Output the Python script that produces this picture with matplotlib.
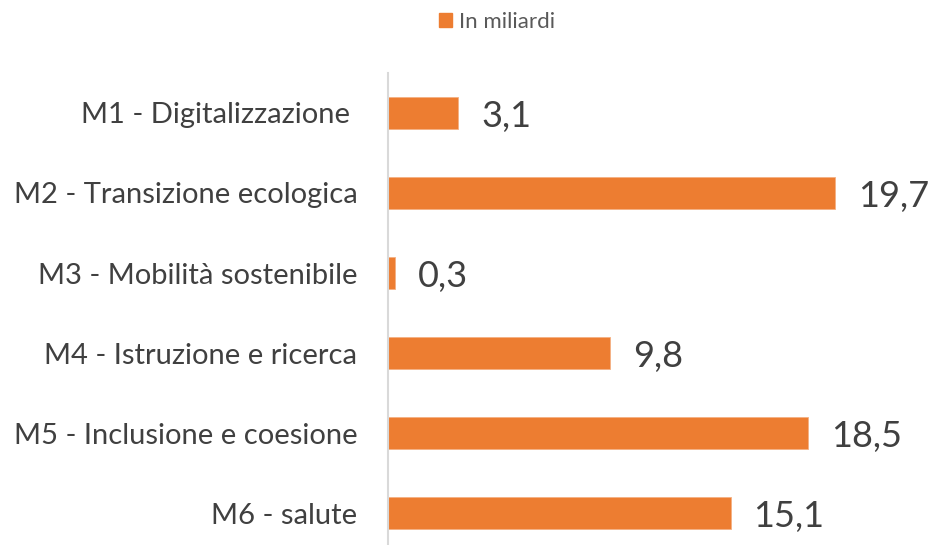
import matplotlib.pyplot as plt
from matplotlib.patches import Patch

categories = ["M1 - Digitalizzazione ", "M2 - Transizione ecologica", "M3 - Mobilità sostenibile",
              "M4 - Istruzione e ricerca", "M5 - Inclusione e coesione", "M6 - salute"]
values = [3.1, 19.7, 0.3, 9.8, 18.5, 15.1]
labels = ["3,1", "19,7", "0,3", "9,8", "18,5", "15,1"]
series_name = "In miliardi"

orange = "#ed7d31"
txt = "#404040"

plt.rcParams['font.family'] = ['Lato', 'DejaVu Sans']

fig = plt.figure(figsize=(9.3, 5.45), dpi=100)
ax = fig.add_axes([388 / 930, 0, 542 / 930, 472 / 545])

y = list(range(len(categories)))
ax.barh(y, values, height=0.4, color=orange, edgecolor="#f4b183", linewidth=0.6)

for yi, v, lab in zip(y, values, labels):
    ax.text(v + 1.0, yi + 0.05, lab, ha="left", va="center", fontsize=26, color=txt, clip_on=False)

ax.set_xlim(0, 542 / 22.7)
ax.set_ylim(5.4, -0.5)
ax.set_yticks(y)
ax.set_yticklabels(categories, fontsize=21, color=txt)
ax.tick_params(axis="y", length=0, pad=22)
ax.set_xticks([])
for s in ["top", "right", "bottom"]:
    ax.spines[s].set_visible(False)
ax.spines["left"].set_color("#d9d9d9")
ax.spines["left"].set_linewidth(1.5)

fig.legend(handles=[Patch(color=orange, label=series_name)], loc="center",
           bbox_to_anchor=(497 / 930, 1 - 22 / 545), frameon=False, fontsize=16,
           handlelength=0.6, handleheight=0.6, handletextpad=0.3, labelcolor="#595959")

fig.savefig("out.png", dpi=100)
